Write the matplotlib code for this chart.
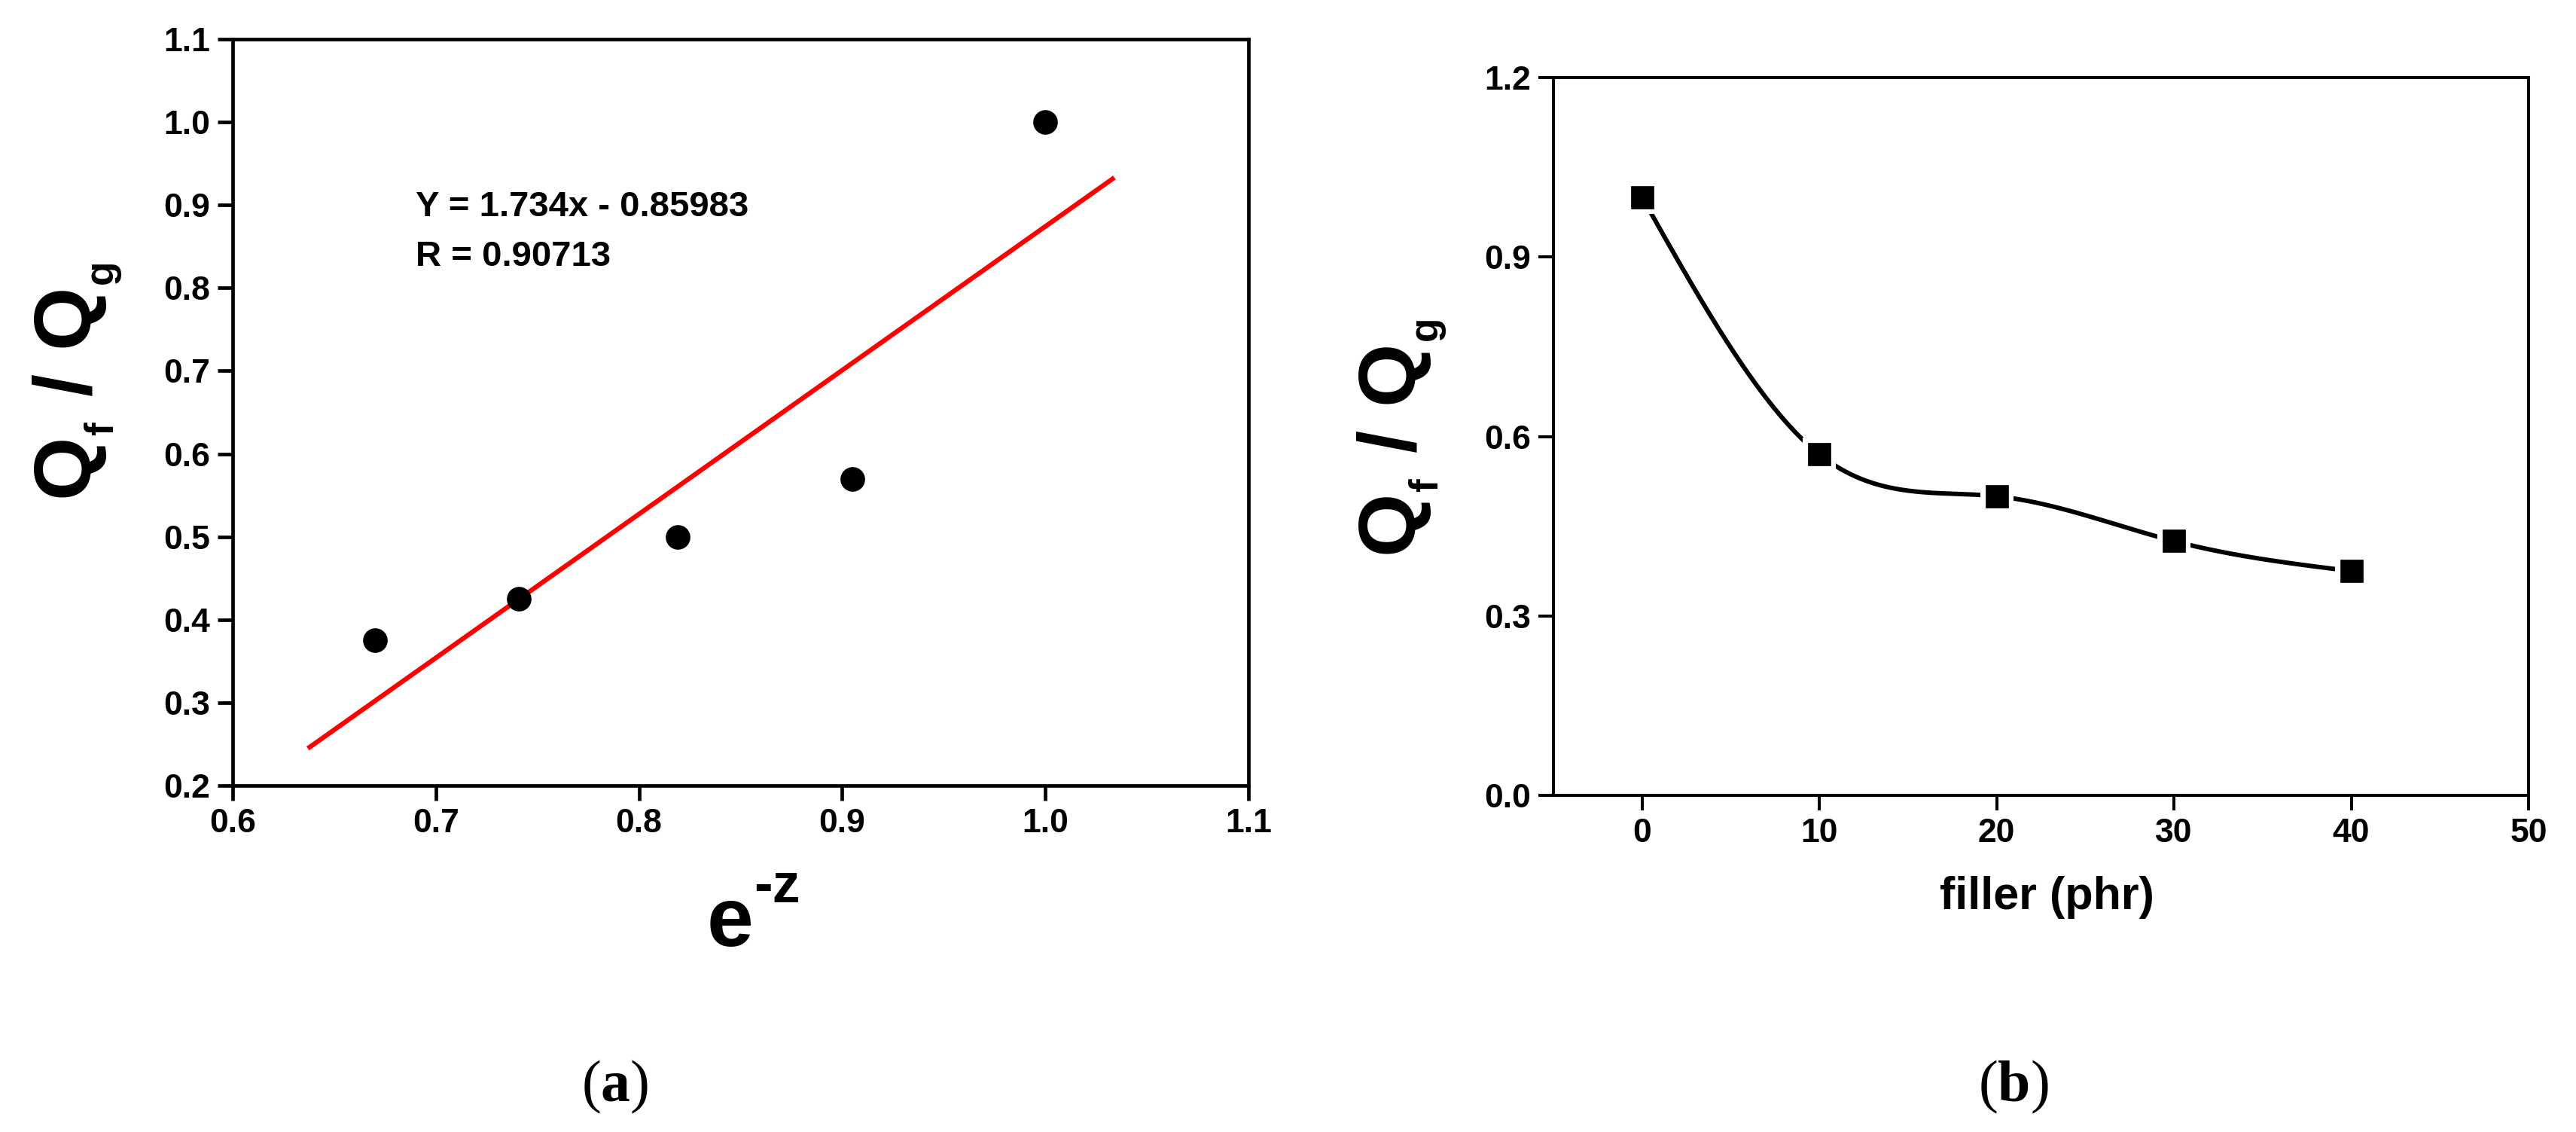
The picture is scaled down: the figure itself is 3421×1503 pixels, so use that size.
import numpy as np
import matplotlib
matplotlib.use('Agg')
import matplotlib.pyplot as plt

# =========================
# Data
# =========================
# (a) Qf/Qg vs e^-z with linear fit
ez = [0.670, 0.741, 0.819, 0.905, 1.000]
ratio_a = [0.375, 0.425, 0.500, 0.570, 1.000]
fit_slope, fit_icpt = 1.734, -0.85983
fit_x = [0.637, 1.034]
fit_text = ['Y = 1.734x - 0.85983', 'R = 0.90713']

# (b) Qf/Qg vs filler loading
filler = [0, 10, 20, 30, 40]
ratio_b = [1.000, 0.570, 0.500, 0.425, 0.375]

xticks_a = [0.6, 0.7, 0.8, 0.9, 1.0, 1.1]
yticks_a = [0.2, 0.3, 0.4, 0.5, 0.6, 0.7, 0.8, 0.9, 1.0, 1.1]
xticks_b = [0, 10, 20, 30, 40, 50]
yticks_b = [0.0, 0.3, 0.6, 0.9, 1.2]

# =========================
# Style
# =========================
W, H, DPI = 3421, 1503, 100
SANS = ['Liberation Sans', 'DejaVu Sans']
SERIF = ['Liberation Serif', 'DejaVu Serif']
plt.rcParams['mathtext.fontset'] = 'custom'
plt.rcParams['mathtext.sf'] = 'Liberation Sans:bold'
plt.rcParams['mathtext.rm'] = 'Liberation Sans:bold'
plt.rcParams['mathtext.bf'] = 'Liberation Serif:bold'


def natural_spline(x, y, n=300):
    """Smooth connecting curve (natural cubic spline) through the points."""
    x = np.asarray(x, float)
    y = np.asarray(y, float)
    h = np.diff(x)
    m = len(x)
    A = np.zeros((m, m))
    b = np.zeros(m)
    A[0, 0] = A[-1, -1] = 1.0
    for i in range(1, m - 1):
        A[i, i - 1] = h[i - 1]
        A[i, i] = 2 * (h[i - 1] + h[i])
        A[i, i + 1] = h[i]
        b[i] = 6 * ((y[i + 1] - y[i]) / h[i] - (y[i] - y[i - 1]) / h[i - 1])
    M = np.linalg.solve(A, b)
    xs = np.linspace(x[0], x[-1], n)
    k = np.clip(np.searchsorted(x, xs) - 1, 0, m - 2)
    t0 = x[k + 1] - xs
    t1 = xs - x[k]
    hk = h[k]
    ys = (M[k] * t0**3 / (6 * hk) + M[k + 1] * t1**3 / (6 * hk)
          + (y[k] / hk - M[k] * hk / 6) * t0 + (y[k + 1] / hk - M[k + 1] * hk / 6) * t1)
    return xs, ys


def style_axes(ax, lw):
    for s in ax.spines.values():
        s.set_linewidth(lw)
    ax.tick_params(direction='out', length=14.5, width=lw, pad=7,
                   top=False, right=False)
    for lab in ax.get_xticklabels() + ax.get_yticklabels():
        lab.set_fontfamily(SANS)
        lab.set_fontweight('bold')
        lab.set_fontsize(32)


fig = plt.figure(figsize=(W / DPI, H / DPI), dpi=DPI)

# ---------- (a) ----------
ax1 = fig.add_axes([309 / W, 1 - 1043 / H, 1349 / W, 991 / H])
fx = np.array(fit_x)
ax1.plot(fx, fit_slope * fx + fit_icpt, color='#ff0000', lw=4.5,
         solid_capstyle='butt', zorder=2)
ax1.plot(ez, ratio_a, 'o', color='black', ms=22, mew=1.5, zorder=3)
ax1.set_xlim(0.6, 1.1)
ax1.set_ylim(0.2, 1.1)
ax1.set_xticks(xticks_a)
ax1.set_yticks(yticks_a)
ax1.set_xticklabels([f'{v:.1f}' for v in xticks_a])
ax1.set_yticklabels([f'{v:.1f}' for v in yticks_a])
style_axes(ax1, 3.4)
for i, line in enumerate(fit_text):
    ax1.text(0.690, 0.887 - 0.060 * i, line, ha='left', va='baseline',
             fontsize=34, fontweight='bold', family=SANS)
ax1.set_ylabel(r'Q$_{_\mathsf{f}}$ / Q$_{_\mathsf{g}}$', fontsize=78,
               fontweight='bold', family=SANS)
ax1.yaxis.set_label_coords(-0.107, 0.541)
# x label e^-z drawn as base + raised exponent (hyphen, not minus)
fig.text(939 / W, 1 - 1256 / H, 'e', ha='left', va='baseline',
         fontsize=80, fontweight='bold', family=SANS)
fig.text(1001 / W, 1 - 1198 / H, '-z', ha='left', va='baseline',
         fontsize=53, fontweight='bold', family=SANS)

# ---------- (b) ----------
ax2 = fig.add_axes([2063 / W, 1 - 1056 / H, 1295 / W, 953 / H])
sx, sy = natural_spline(filler, ratio_b)
ax2.plot(sx, sy, color='black', lw=4.3, solid_capstyle='round', zorder=2)
# white halo behind the symbols gives the gap between line and symbol
ax2.plot(filler, ratio_b, 's', color='white', ms=32, mew=0, zorder=3)
ax2.plot(filler, ratio_b, 's', color='black', ms=21, mew=0.5, zorder=4)
ax2.set_xlim(-5, 50)
ax2.set_ylim(0, 1.2)
ax2.set_xticks(xticks_b)
ax2.set_yticks(yticks_b)
ax2.set_xticklabels([str(v) for v in xticks_b])
ax2.set_yticklabels([f'{v:.1f}' for v in yticks_b])
style_axes(ax2, 2.9)
ax2.set_ylabel(r'Q$_{_\mathsf{f}}$ / Q$_{_\mathsf{g}}$', fontsize=78,
               fontweight='bold', family=SANS)
ax2.yaxis.set_label_coords(-0.107, 0.497)
ax2.set_xlabel('filler (phr)', fontsize=44, fontweight='bold', family=SANS)
ax2.xaxis.set_label_coords(0.506, -0.112)

# panel letters
for x, letter in [(817, 'a'), (2674, 'b')]:
    fig.text(x / W, 1 - 1443 / H, '($\\mathbf{' + letter + '}$)', ha='center',
             va='center', fontsize=56, family=SERIF)

fig.savefig('out.png', dpi=DPI, facecolor='white')
